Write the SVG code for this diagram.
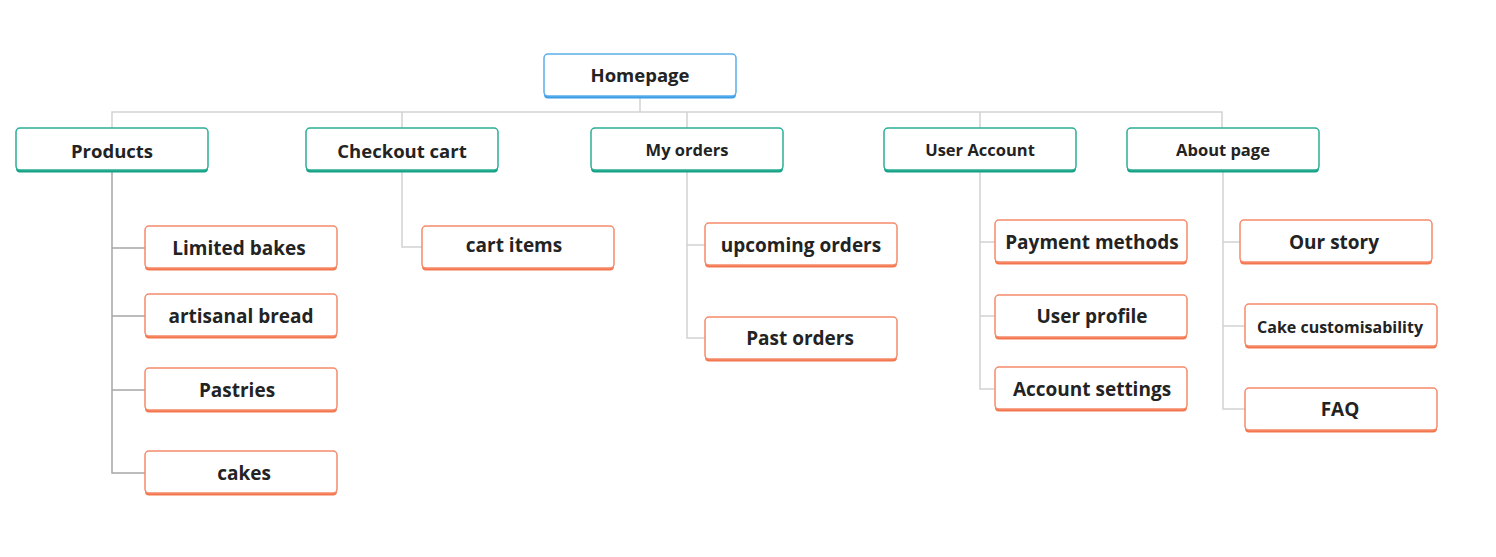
<svg xmlns="http://www.w3.org/2000/svg" width="1496" height="557" viewBox="0 0 1496 557">
<style>
text{font-family:"Open Sans","Noto Sans","Liberation Sans",sans-serif;font-weight:700;fill:#232323;text-anchor:middle;dominant-baseline:central}
.sh-b{fill:#3a9de6}.bx-b{fill:#fff;stroke:#5aaeea;stroke-width:1.5}
.sh-t{fill:#16a085}.bx-t{fill:#fff;stroke:#2aae94;stroke-width:1.5}
.sh-o{fill:#f4764f}.bx-o{fill:#fff;stroke:#f58a6a;stroke-width:1.5}
.c{fill:none;stroke:#d2d2d2;stroke-width:1.5}
.cd{fill:none;stroke:#a6a6a6;stroke-width:1.5}
.t1{font-size:18.5px}.t2{font-size:16.5px}.t3{font-size:19px}.t4{font-size:16px}
</style>
<rect width="1496" height="557" fill="#fff"/>
<g id="connectors">
<path class="c" d="M640 97V112M112 128V112H1222V128M402 112V128M687 112V128M980 112V128"/>
<path class="cd" d="M112 172V473H145M112 248H145M112 316H145M112 390H145"/>
<path class="c" d="M402 172V247H422"/>
<path class="c" d="M687 172V338H705M687 245H705"/>
<path class="c" d="M980 172V389H995M980 242H995M980 316H995"/>
<path class="c" d="M1223 172V409H1245M1223 242H1240M1223 326H1245"/>
</g>
<g id="homepage"><rect class="sh-b" x="544" y="56.5" width="192" height="42" rx="4"/><rect class="bx-b" x="544" y="54" width="192" height="42" rx="4"/><text class="t1" x="640" y="74">Homepage</text></g>
<g id="products"><rect class="sh-t" x="16" y="130.5" width="192" height="42" rx="4"/><rect class="bx-t" x="16" y="128" width="192" height="42" rx="4"/><text class="t1" x="112" y="150">Products</text></g>
<g id="checkout"><rect class="sh-t" x="306" y="130.5" width="192" height="42" rx="4"/><rect class="bx-t" x="306" y="128" width="192" height="42" rx="4"/><text class="t1" x="402" y="150">Checkout cart</text></g>
<g id="myorders"><rect class="sh-t" x="591" y="130.5" width="192" height="42" rx="4"/><rect class="bx-t" x="591" y="128" width="192" height="42" rx="4"/><text class="t2" x="687" y="149">My orders</text></g>
<g id="useraccount"><rect class="sh-t" x="884" y="130.5" width="192" height="42" rx="4"/><rect class="bx-t" x="884" y="128" width="192" height="42" rx="4"/><text class="t2" x="980" y="149">User Account</text></g>
<g id="about"><rect class="sh-t" x="1127" y="130.5" width="192" height="42" rx="4"/><rect class="bx-t" x="1127" y="128" width="192" height="42" rx="4"/><text class="t2" x="1223" y="149">About page</text></g>
<g id="limited"><rect class="sh-o" x="145" y="228.5" width="192" height="42" rx="4"/><rect class="bx-o" x="145" y="226" width="192" height="42" rx="4"/><text class="t3" x="239" y="248">Limited bakes</text></g>
<g id="artisanal"><rect class="sh-o" x="145" y="296.5" width="192" height="42" rx="4"/><rect class="bx-o" x="145" y="294" width="192" height="42" rx="4"/><text class="t3" x="241" y="316">artisanal bread</text></g>
<g id="pastries"><rect class="sh-o" x="145" y="370.5" width="192" height="42" rx="4"/><rect class="bx-o" x="145" y="368" width="192" height="42" rx="4"/><text class="t3" x="237" y="390">Pastries</text></g>
<g id="cakes"><rect class="sh-o" x="145" y="453.5" width="192" height="42" rx="4"/><rect class="bx-o" x="145" y="451" width="192" height="42" rx="4"/><text class="t3" x="244" y="473">cakes</text></g>
<g id="cartitems"><rect class="sh-o" x="422" y="228.5" width="192" height="42" rx="4"/><rect class="bx-o" x="422" y="226" width="192" height="42" rx="4"/><text class="t3" x="514" y="245">cart items</text></g>
<g id="upcoming"><rect class="sh-o" x="705" y="225.5" width="192" height="42" rx="4"/><rect class="bx-o" x="705" y="223" width="192" height="42" rx="4"/><text class="t3" x="801" y="245">upcoming orders</text></g>
<g id="past"><rect class="sh-o" x="705" y="319.5" width="192" height="42" rx="4"/><rect class="bx-o" x="705" y="317" width="192" height="42" rx="4"/><text class="t3" x="800" y="338">Past orders</text></g>
<g id="payment"><rect class="sh-o" x="995" y="222.5" width="192" height="42" rx="4"/><rect class="bx-o" x="995" y="220" width="192" height="42" rx="4"/><text class="t3" x="1092" y="242">Payment methods</text></g>
<g id="profile"><rect class="sh-o" x="995" y="297.5" width="192" height="42" rx="4"/><rect class="bx-o" x="995" y="295" width="192" height="42" rx="4"/><text class="t3" x="1092" y="316">User profile</text></g>
<g id="settings"><rect class="sh-o" x="995" y="369.5" width="192" height="42" rx="4"/><rect class="bx-o" x="995" y="367" width="192" height="42" rx="4"/><text class="t3" x="1092" y="389">Account settings</text></g>
<g id="story"><rect class="sh-o" x="1240" y="222.5" width="192" height="42" rx="4"/><rect class="bx-o" x="1240" y="220" width="192" height="42" rx="4"/><text class="t3" x="1334" y="242">Our story</text></g>
<g id="custom"><rect class="sh-o" x="1245" y="306.5" width="192" height="42" rx="4"/><rect class="bx-o" x="1245" y="304" width="192" height="42" rx="4"/><text class="t4" x="1340" y="327">Cake customisability</text></g>
<g id="faq"><rect class="sh-o" x="1245" y="390.5" width="192" height="42" rx="4"/><rect class="bx-o" x="1245" y="388" width="192" height="42" rx="4"/><text class="t3" x="1340" y="409">FAQ</text></g>
</svg>
